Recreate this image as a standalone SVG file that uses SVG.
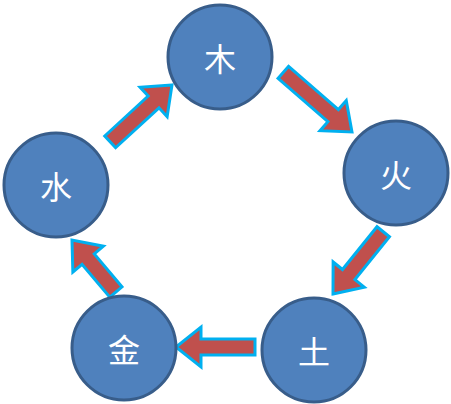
<svg xmlns="http://www.w3.org/2000/svg" width="451" height="404" viewBox="0 0 451 404">
<style>
.n{fill:#4F81BD;stroke:#385D8A;stroke-width:3}
.t{fill:#fff;font-family:"Noto Sans CJK SC","Noto Sans CJK JP",sans-serif;font-size:32px;font-weight:400;text-anchor:middle;dominant-baseline:central}
.a{fill:#C0504D;stroke:#00B0F0;stroke-width:3;stroke-linejoin:miter}
</style>
<rect width="451" height="404" fill="#fff"/>
<g id="connectors">
<path class="a" transform="translate(172,85) rotate(-42.6)" d="M0,0 L-25,-20 L-25,-8 L-84,-8 L-84,8 L-25,8 L-25,20 Z"/>
<path class="a" transform="translate(352,132) rotate(41)" d="M0,0 L-25,-20 L-25,-8 L-91,-8 L-91,8 L-25,8 L-25,20 Z"/>
<path class="a" transform="translate(333,294) rotate(128.9)" d="M0,0 L-25,-20 L-25,-8 L-80,-8 L-80,8 L-25,8 L-25,20 Z"/>
<path class="a" transform="translate(176,347) rotate(180)" d="M0,0 L-25,-20 L-25,-8 L-79,-8 L-79,8 L-25,8 L-25,20 Z"/>
<path class="a" transform="translate(72,240) rotate(-130.2)" d="M0,0 L-25,-20 L-25,-8 L-68,-8 L-68,8 L-25,8 L-25,20 Z"/>
</g>
<g id="wood"><circle class="n" cx="220" cy="57" r="52"/><text class="t" x="220" y="57">木</text></g>
<g id="fire"><circle class="n" cx="396" cy="173" r="52"/><text class="t" x="396" y="173">火</text></g>
<g id="earth"><circle class="n" cx="314" cy="350" r="52"/><text class="t" x="314" y="350">土</text></g>
<g id="metal"><circle class="n" cx="124" cy="348" r="52"/><text class="t" x="124" y="348">金</text></g>
<g id="water"><circle class="n" cx="56" cy="185" r="52"/><text class="t" x="56" y="185">水</text></g>
</svg>
